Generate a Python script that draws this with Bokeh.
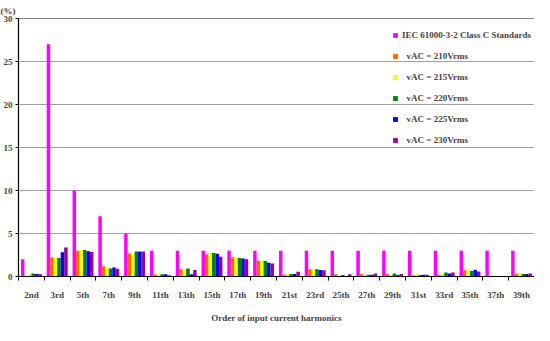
import numpy as np
from bokeh.plotting import figure
from bokeh.models import (Range1d, FixedTicker, Span, Legend, LegendItem)
from bokeh.embed import file_html
from bokeh.resources import INLINE

categories = ["2nd", "3rd", "5th", "7th", "9th", "11th", "13th", "15th", "17th", "19th",
              "21st", "23rd", "25th", "27th", "29th", "31st", "33rd", "35th", "37th", "39th"]

iec_standard = [2, 27, 10, 7, 5, 3, 3, 3, 3, 3, 3, 3, 3, 3, 3, 3, 3, 3, 3, 3]
v210 = [0.03, 2.25, 3.00, 1.20, 2.68, 0.22, 0.83, 2.60, 2.25, 1.82,
        0.22, 0.85, 0.25, 0.28, 0.28, 0.14, 0.20, 0.74, 0.10, 0.28]
v215 = [0.22, 2.20, 3.04, 1.09, 2.60, 0.27, 0.88, 2.72, 2.22, 1.82,
        0.25, 0.85, 0.03, 0.18, 0.18, 0.28, 0.32, 0.74, 0.03, 0.42]
v220 = [0.35, 2.15, 3.08, 0.94, 2.90, 0.27, 0.92, 2.72, 2.15, 1.80,
        0.30, 0.85, 0.17, 0.20, 0.35, 0.18, 0.46, 0.64, 0.03, 0.28]
v225 = [0.30, 2.83, 2.95, 1.05, 2.90, 0.25, 0.25, 2.65, 2.10, 1.60,
        0.30, 0.75, 0.05, 0.20, 0.18, 0.20, 0.35, 0.78, 0.03, 0.28]
v230 = [0.30, 3.37, 2.86, 0.90, 2.90, 0.15, 0.75, 2.30, 2.00, 1.52,
        0.55, 0.72, 0.27, 0.35, 0.28, 0.20, 0.46, 0.57, 0.03, 0.35]

series = [iec_standard, v210, v215, v220, v225, v230]
labels = ["IEC 61000-3-2 Class C Standards", "  vAC = 210Vrms", "  vAC = 215Vrms",
          "  vAC = 220Vrms", "  vAC = 225Vrms", "  vAC = 230Vrms"]
colors = ["#FF00FF", "#FF6600", "#FFFF00", "#008000", "#0000FF", "#990099"]
y_ticks = [0, 5, 10, 15, 20, 25, 30]

FONT = "Liberation Serif"

p = figure(width=534, height=325, output_backend="svg", toolbar_location=None,
           x_range=Range1d(0, len(categories)), y_range=Range1d(0, 30),
           title="(%)", min_border_right=0, min_border_left=4, min_border_bottom=0,
           min_border_top=0)

n = len(series)
bw = 0.135
centers = np.arange(len(categories)) + 0.5
items = []
for j, (vals, lab, col) in enumerate(zip(series, labels, colors)):
    xs = centers + (j - (n - 1) / 2) * bw
    r = p.vbar(x=xs, top=vals, width=bw, fill_color=col, line_color=None)
    items.append(LegendItem(label=lab, renderers=[r]))

legend = Legend(items=items, location=(374, 131), background_fill_alpha=0,
                border_line_color=None, label_text_font=FONT, label_text_font_style="bold",
                label_text_font_size="9px", glyph_width=6, glyph_height=6,
                label_height=10, spacing=11, label_standoff=4, margin=0, padding=2)
p.add_layout(legend, "center")

p.add_layout(Span(location=30, dimension="width", line_color="black", line_width=1))

p.title.text_font = FONT
p.title.text_font_size = "9px"
p.title.text_font_style = "bold"
p.title.align = "left"
p.title.offset = -18
p.title.standoff = 6

p.outline_line_color = None
p.xgrid.visible = False
p.ygrid.ticker = FixedTicker(ticks=y_ticks)
p.ygrid.grid_line_color = "#a0a0a0"

xa = p.xaxis[0]
xa.ticker = FixedTicker(ticks=list(centers), minor_ticks=list(range(len(categories) + 1)))
overrides = {}
for c, lab in zip(centers, categories):
    overrides[float(c)] = lab
    overrides[str(float(c))] = lab
xa.major_label_overrides = overrides
xa.major_tick_line_color = None
xa.minor_tick_line_color = "black"
xa.minor_tick_out = 4
xa.minor_tick_in = 0
xa.axis_line_color = "black"
xa.axis_line_width = 1.2
xa.major_label_text_font = FONT
xa.major_label_text_font_style = "bold"
xa.major_label_text_font_size = "9px"
xa.major_label_standoff = 7
xa.axis_label = "Order of input current harmonics"
xa.axis_label_text_font = FONT
xa.axis_label_text_font_style = "bold"
xa.axis_label_text_font_size = "9px"
xa.axis_label_standoff = 10

ya = p.yaxis[0]
ya.ticker = FixedTicker(ticks=y_ticks)
ya.major_tick_out = 3
ya.major_tick_in = 0
ya.minor_tick_line_color = None
ya.axis_line_color = "black"
ya.axis_line_width = 1.2
ya.major_label_text_font = FONT
ya.major_label_text_font_style = "bold"
ya.major_label_text_font_size = "9px"
ya.major_label_standoff = 3

open("out.html", "w").write(file_html(p, INLINE))
